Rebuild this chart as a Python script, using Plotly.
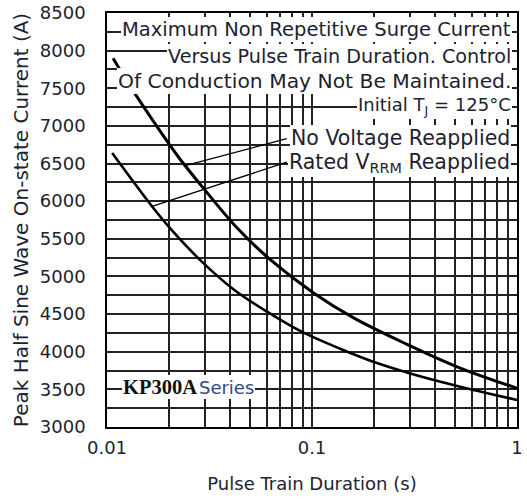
import numpy as np
import plotly.graph_objects as go

# ---- data ----
dur_no_voltage = [0.0107, 0.0135, 0.017, 0.0224, 0.0302, 0.0434, 0.0626,
                  0.1018, 0.1596, 0.2906, 0.51, 1.0]
cur_no_voltage = [7900, 7455, 7045, 6580, 6140, 5636, 5223,
                  4780, 4449, 4098, 3800, 3515]

dur_rated_vrrm = [0.0106, 0.0166, 0.0207, 0.029, 0.0418, 0.0603, 0.089,
                  0.137, 0.209, 0.29, 0.423, 0.614, 1.0]
cur_rated_vrrm = [6640, 5930, 5615, 5197, 4820, 4532, 4266,
                  4040, 3846, 3725, 3602, 3492, 3359]

x_tick_vals = [0.01, 0.02, 0.03, 0.04, 0.05, 0.06, 0.07, 0.08, 0.09,
               0.1, 0.2, 0.3, 0.4, 0.5, 0.6, 0.7, 0.8, 0.9, 1]
x_tick_text = ["0.01", "", "", "", "", "", "", "", "",
               "0.1", "", "", "", "", "", "", "", "", "1"]
y_tick_vals = list(range(3000, 8501, 250))
y_tick_text = [str(v) if v % 500 == 0 else "" for v in y_tick_vals]

FONT = "DejaVu Sans"
TXT = "#1d2230"

fig = go.Figure()
fig.add_trace(go.Scatter(x=dur_no_voltage, y=cur_no_voltage, mode="lines",
                         line=dict(color="black", width=3, shape="spline"),
                         name="No Voltage Reapplied", showlegend=False))
fig.add_trace(go.Scatter(x=dur_rated_vrrm, y=cur_rated_vrrm, mode="lines",
                         line=dict(color="black", width=2.6, shape="spline"),
                         name="Rated VRRM Reapplied", showlegend=False))

def interp_log(xq, xs, ys):
    return float(np.interp(np.log10(xq), np.log10(xs), ys))

annotations = []
# leader lines (log axis -> annotation coords in log10)
tail_x = 0.0766
for tip_x, xs, ys, tail_y in [(0.0241, dur_no_voltage, cur_no_voltage, 6835),
                              (0.0166, dur_rated_vrrm, cur_rated_vrrm, 6525)]:
    annotations.append(dict(x=np.log10(tip_x), y=interp_log(tip_x, xs, ys),
                            ax=np.log10(tail_x), ay=tail_y, axref="x", ayref="y",
                            xref="x", yref="y", text="", showarrow=True,
                            arrowhead=0, arrowwidth=1.3, arrowcolor="black",
                            standoff=0, startstandoff=0))

def label(text, ypix, size=19.5, xshift=-5):
    return dict(x=1, y=(427 - ypix) / 414, xref="paper", yref="paper",
                xanchor="right", yanchor="middle", xshift=xshift,
                text=text, showarrow=False, bgcolor="white", borderpad=1,
                borderwidth=0, font=dict(family=FONT, size=size, color=TXT))

annotations += [
    label("Maximum Non Repetitive Surge Current", 30),
    label("Versus Pulse Train Duration. Control", 56, size=19.2),
    label("Of Conduction May Not Be Maintained.", 81, size=20.3),
    label("Initial T<sub>J</sub> = 125°C", 106, size=18),
    label("No Voltage Reapplied", 138, size=20.5, xshift=-6),
    label("Rated V<sub>RRM</sub> Reapplied", 163, size=20.5, xshift=-6),
]
annotations.append(dict(
    x=(122 - 107) / 410, y=(427 - 387) / 414, xref="paper", yref="paper",
    xanchor="left", yanchor="middle", showarrow=False, bgcolor="white",
    borderpad=1, borderwidth=0,
    text="<b><span style='font-family:Liberation Serif;font-size:20.5px'>KP300A</span></b>"
         "<span style='font-size:6px'> </span>"
         "<span style='color:#2f4a88'>Series</span>",
    font=dict(family=FONT, size=18, color="#111111")))

fig.update_layout(
    width=527, height=499,
    margin=dict(l=107, r=10, t=13, b=72),
    paper_bgcolor="white", plot_bgcolor="white",
    font=dict(family=FONT, color=TXT),
    annotations=annotations,
)
fig.update_xaxes(type="log", range=[-2, 0], tickvals=x_tick_vals, ticktext=x_tick_text,
                 showgrid=True, gridcolor="#222222", gridwidth=1.6,
                 showline=True, linecolor="black", linewidth=1.6, mirror=True,
                 ticks="", tickfont=dict(size=18, color=TXT), ticklabelstandoff=4,
                 title=dict(text="Pulse Train Duration (s)", font=dict(size=18, color=TXT),
                            standoff=20),
                 zeroline=False, automargin=False)
fig.update_yaxes(range=[3000, 8500], tickvals=y_tick_vals, ticktext=y_tick_text,
                 showgrid=True, gridcolor="#222222", gridwidth=1.6,
                 showline=True, linecolor="black", linewidth=1.6, mirror=True,
                 ticks="", tickfont=dict(size=18, color=TXT), ticklabelstandoff=16,
                 title=dict(text="Peak Half Sine Wave On-state Current (A)",
                            font=dict(size=20, color=TXT), standoff=6),
                 zeroline=False, automargin=False)

# remove the browser's default 8px body margin so the figure fills the window exactly
fig.write_html("out.html", config={"displayModeBar": False},
               post_script="document.body.style.margin='0';document.body.style.overflow='hidden';")
